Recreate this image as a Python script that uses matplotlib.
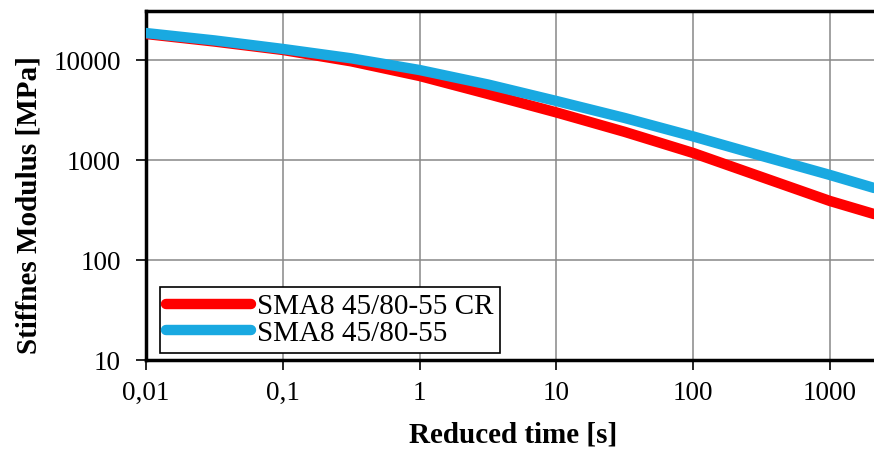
import matplotlib
matplotlib.use("Agg")
import matplotlib.pyplot as plt

# Data
time_s = [0.01, 0.0316, 0.1, 0.316, 1, 3.16, 10, 31.6, 100, 316, 1000, 2100]
sma_cr = [18200, 15300, 12600, 9700, 6920, 4570, 2990, 1910, 1175, 676, 389, 288]
sma = [18600, 15700, 12900, 10400, 7940, 5690, 3890, 2630, 1720, 1100, 708, 525]
series_labels = ["SMA8 45/80-55 CR", "SMA8 45/80-55"]
x_ticks = [0.01, 0.1, 1, 10, 100, 1000]
x_tick_labels = ["0,01", "0,1", "1", "10", "100", "1000"]
y_ticks = [10, 100, 1000, 10000]
y_tick_labels = ["10", "100", "1000", "10000"]

plt.rcParams['font.family'] = ['Liberation Serif', 'DejaVu Serif']

W, H = 874, 449
fig = plt.figure(figsize=(W / 100, H / 100), dpi=100)
left, right, top, bottom = 146, 874, 11, 360
ax = fig.add_axes([left / W, 1 - bottom / H, (right - left) / W, (bottom - top) / H])

ax.plot(time_s, sma_cr, color="#FF0000", lw=7.5, solid_capstyle="round",
        label=series_labels[0], zorder=3)
ax.plot(time_s, sma, color="#19A9E1", lw=7.5, solid_capstyle="round",
        label=series_labels[1], zorder=4)

ax.set_xscale("log")
ax.set_yscale("log")
ax.set_xlim(0.01, 10 ** (3 + 44 / 136.8))
ax.set_ylim(10, 10 ** 4.49)

ax.set_xticks(x_ticks)
ax.set_xticklabels(x_tick_labels)
ax.set_yticks(y_ticks)
ax.set_yticklabels(y_tick_labels)
ax.minorticks_off()
ax.tick_params(axis="both", direction="out", length=7, width=1.2,
               labelsize=19.5, colors="black")
ax.tick_params(axis="x", pad=8)
ax.tick_params(axis="y", pad=11)

ax.grid(True, which="major", color="#888888", lw=1.1)
ax.set_axisbelow(True)
for s in ["left", "bottom", "top"]:
    ax.spines[s].set_linewidth(2.5)
    ax.spines[s].set_color("black")
ax.spines["right"].set_visible(False)

fig.text(513 / W, 1 - 442 / H, "Reduced time [s]", fontsize=21, fontweight="bold",
         ha="center", va="baseline")
fig.text(29 / W, 1 - 205 / H, "Stiffnes Modulus [MPa]", fontsize=21,
         fontweight="bold", rotation=90, ha="center", va="center")

leg = ax.legend(loc="lower left", bbox_to_anchor=(14 / 728, 7 / 349),
                borderaxespad=0, fontsize=21, frameon=True, fancybox=False,
                edgecolor="black", framealpha=1, handlelength=2.9,
                handletextpad=0.2, borderpad=0.22, labelspacing=0.0)
leg.get_frame().set_linewidth(1.2)

fig.savefig("out.png", dpi=100)
